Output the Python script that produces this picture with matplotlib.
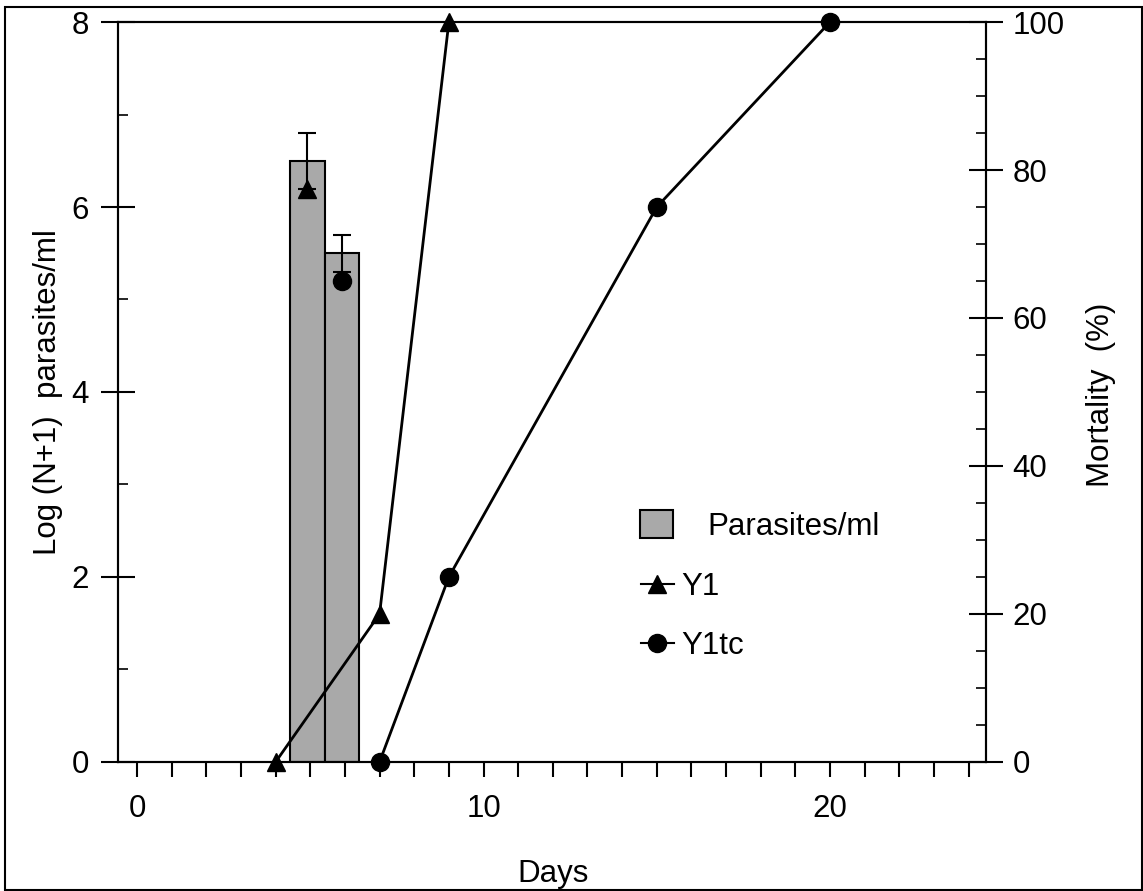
import matplotlib.pyplot as plt
from matplotlib.lines import Line2D
from matplotlib.patches import Patch, Rectangle
from matplotlib.ticker import MultipleLocator

plt.rcParams['font.family'] = ['Liberation Sans', 'DejaVu Sans']

# parasites (left axis, log(N+1))
bar_days = [4.92, 5.92]
log_parasites = [6.5, 5.5]
log_err = [0.3, 0.2]
group_means = [6.2, 5.2]

# mortality (right axis, %)
y1_days = [4, 7, 9]
y1_mort = [0, 20, 100]
y1tc_days = [7, 9, 15, 20]
y1tc_mort = [0, 25, 75, 100]

FS = 22.5
GREY = '#a9a9a9'

fig = plt.figure(figsize=(11.43, 8.91), dpi=100)
ax = fig.add_axes([0.1032, 0.1448, 0.7594, 0.8305])

ax.bar(bar_days, log_parasites, width=1.0, color=GREY, edgecolor='black',
       linewidth=1.5, zorder=2)
ax.errorbar(bar_days, log_parasites, yerr=log_err, fmt='none', ecolor='black',
            elinewidth=1.5, capsize=6.5, capthick=1.5, zorder=3)
ax.plot(bar_days[:1], group_means[:1], '^', ms=13, color='black', zorder=4)
ax.plot(bar_days[1:], group_means[1:], 'o', ms=13, color='black', zorder=4)

ax.set_xlim(-0.55, 24.5)
ax.set_ylim(0, 8)

ax2 = ax.twinx()
ax2.plot(y1_days, y1_mort, '-^', color='black', lw=2.0, ms=13, clip_on=False)
ax2.plot(y1tc_days, y1tc_mort, '-o', color='black', lw=2.0, ms=13, clip_on=False)
ax2.set_ylim(0, 100)

# ticks
ax.xaxis.set_major_locator(MultipleLocator(10))
ax.xaxis.set_minor_locator(MultipleLocator(1))
ax.tick_params(axis='x', which='both', direction='out', length=11, width=1.5,
               labelsize=FS, pad=12)
ax.yaxis.set_major_locator(MultipleLocator(2))
ax.yaxis.set_minor_locator(MultipleLocator(1))
ax.tick_params(axis='y', which='major', direction='inout', length=25, width=1.5,
               labelsize=FS, pad=8.6)
ax.tick_params(axis='y', which='minor', direction='in', length=7, width=1.2)

ax2.yaxis.set_major_locator(MultipleLocator(20))
ax2.yaxis.set_minor_locator(MultipleLocator(5))
ax2.tick_params(axis='y', which='major', direction='inout', length=25, width=1.5,
                labelsize=FS, pad=6.5)
ax2.tick_params(axis='y', which='minor', direction='in', length=7, width=1.2)

for a in (ax, ax2):
    for s in a.spines.values():
        s.set_linewidth(1.5)

# legend
leg1 = ax2.legend(handles=[Patch(facecolor=GREY, edgecolor='black', linewidth=1.5)],
                  labels=['Parasites/ml'], loc='upper left',
                  bbox_to_anchor=(640 / 1143, 1 - 510 / 891),
                  bbox_transform=fig.transFigure, frameon=False, fontsize=FS,
                  handlelength=1.05, handleheight=1.0, handletextpad=1.1,
                  borderpad=0, borderaxespad=0)
ax2.add_artist(leg1)
ax2.legend(handles=[Line2D([], [], color='black', marker='^', ms=13, lw=1.5),
                    Line2D([], [], color='black', marker='o', ms=13, lw=1.5)],
           labels=['Y1', 'Y1tc'], loc='upper left',
           bbox_to_anchor=(641 / 1143, 1 - 572 / 891),
           bbox_transform=fig.transFigure, frameon=False, fontsize=FS,
           handlelength=1.05, handletextpad=0.25, labelspacing=0.92,
           borderpad=0, borderaxespad=0)

# axis labels
fig.text(0.0420, 0.56, 'Log (N+1)  parasites/ml', rotation=90,
         ha='center', va='center', fontsize=FS)
fig.text(0.9633, 0.557, 'Mortality  (%)', rotation=90,
         ha='center', va='center', fontsize=FS)
fig.text(0.4838, 0.0101, 'Days', ha='center', va='baseline', fontsize=FS)

# outer frame
fig.add_artist(Rectangle((0.0044, 0.0011), 0.9947, 0.991,
                         transform=fig.transFigure, fill=False, lw=1.5,
                         ec='black'))

fig.savefig('out.png', dpi=100)
